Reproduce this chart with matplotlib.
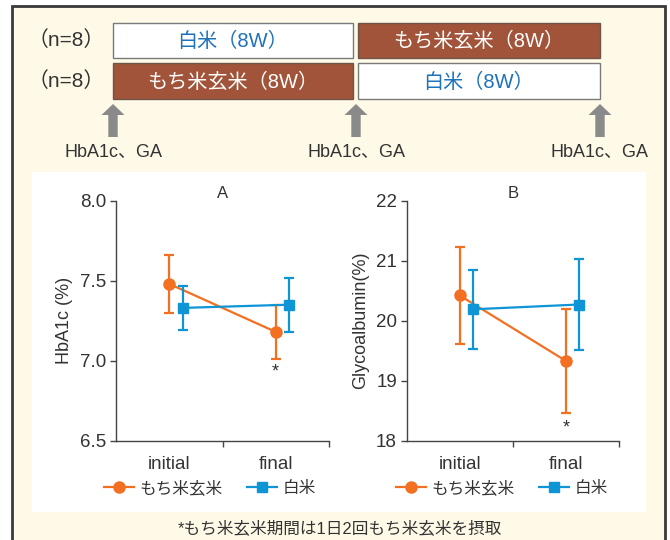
import matplotlib
matplotlib.use('Agg')
import matplotlib.pyplot as plt
from matplotlib.patches import Rectangle, Polygon
from matplotlib.lines import Line2D

plt.rcParams['font.family'] = ['Liberation Sans', 'Noto Sans CJK JP', 'DejaVu Sans']

# ---------------- data ----------------
categories = ['initial', 'final']
series_names = ['もち米玄米', '白米']

hba1c_mochi = [7.48, 7.18]
hba1c_mochi_err = [0.18, 0.17]
hba1c_white = [7.33, 7.35]
hba1c_white_err = [0.14, 0.17]

ga_mochi = [20.42, 19.33]
ga_mochi_err = [0.81, 0.87]
ga_white = [20.19, 20.27]
ga_white_err = [0.66, 0.76]

top_row1 = ['白米（8W）', 'もち米玄米（8W）']
top_row2 = ['もち米玄米（8W）', '白米（8W）']
n_label = '（n=8）'
arrow_label = 'HbA1c、GA'
footnote = '*もち米玄米期間は1日2回もち米玄米を摂取'

# ---------------- style ----------------
ORANGE = '#F36F21'
BLUE = '#0E95D6'
BROWN = '#A2543A'
BOXBLUE = '#1E72BC'
CREAM = '#FFFAE8'
TXT = '#333333'
GRAY = '#8A8A8A'

W, H = 670, 540
fig = plt.figure(figsize=(W / 100, H / 100), dpi=100)
fig.patch.set_facecolor('white')

def fx(x):
    return x / W

def fy(y):
    return 1 - y / H

def prect(x0, y0, x1, y1, **kw):
    r = Rectangle((fx(x0), fy(y1)), fx(x1) - fx(x0), fy(y0) - fy(y1),
                  transform=fig.transFigure, **kw)
    fig.add_artist(r)
    return r

# outer cream frame
prect(12, 6, 665, 560, facecolor=CREAM, edgecolor='#3a3a3a', linewidth=2, zorder=0)
# white chart panel
prect(32, 172, 646, 512, facecolor='white', edgecolor='none', zorder=0.5)

# top schedule boxes
rows_y = [(23, 58), (63, 99)]
cols_x = [(113, 353), (358, 600)]
for ri, row in enumerate([top_row1, top_row2]):
    y0, y1 = rows_y[ri]
    fig.text(fx(105), fy((y0 + y1) / 2), n_label, ha='right', va='center',
             fontsize=15, color=TXT)
    for ci, lab in enumerate(row):
        x0, x1 = cols_x[ci]
        brown = lab.startswith('もち')
        prect(x0, y0, x1, y1, facecolor=BROWN if brown else 'white',
              edgecolor='#6e5548' if brown else '#7a7a7a', linewidth=1, zorder=1)
        fig.text(fx((x0 + x1) / 2), fy((y0 + y1) / 2 + 1), lab, ha='center', va='center',
                 fontsize=14.5, color='white' if brown else BOXBLUE, zorder=2)

# arrows
for ax_x in [113, 356, 600]:
    pts = [(ax_x, 104), (ax_x + 11.5, 115), (ax_x + 4.7, 115), (ax_x + 4.7, 137),
           (ax_x - 4.7, 137), (ax_x - 4.7, 115), (ax_x - 11.5, 115)]
    poly = Polygon([(fx(a), fy(b)) for a, b in pts], closed=True,
                   transform=fig.transFigure, facecolor=GRAY, edgecolor='none')
    fig.add_artist(poly)
    fig.text(fx(ax_x), fy(152), arrow_label, ha='center', va='center',
             fontsize=13, color=TXT)

# ---------------- charts ----------------
def make_panel(left_px, right_px, ylim, yticks, yticklabels, ylabel, title,
               m_vals, m_err, w_vals, w_err, star_off, leg_cx):
    ax = fig.add_axes([fx(left_px), fy(440.7), fx(right_px) - fx(left_px),
                       fy(200.7) - fy(440.7)])
    ax.set_zorder(3)
    ax.set_facecolor('none')
    xs = [0.5, 1.5]
    off = 0.125
    ax.errorbar(xs, m_vals, yerr=m_err, color=ORANGE, marker='o', markersize=8,
                linewidth=1.6, elinewidth=1.6, capsize=3.5, capthick=1.6, zorder=3)
    ax.errorbar([x + off for x in xs], w_vals, yerr=w_err, color=BLUE, marker='s',
                markersize=7.5, linewidth=1.6, elinewidth=1.6, capsize=3.5,
                capthick=1.6, zorder=4)
    ax.set_xlim(0, 2)
    ax.set_ylim(*ylim)
    ax.set_yticks(yticks)
    ax.set_yticklabels(yticklabels)
    ax.set_xticks(xs)
    ax.set_xticklabels(categories)
    ax.set_xticks([1, 2], minor=True)
    ax.tick_params(axis='x', which='major', length=0, pad=11, labelsize=13.5,
                   labelcolor=TXT)
    ax.tick_params(axis='x', which='minor', length=4, width=1, color='#444444',
                   direction='out')
    ax.tick_params(axis='y', length=4, width=1, color='#444444', direction='out',
                   labelsize=13.5, labelcolor=TXT, pad=3)
    for s in ['top', 'right']:
        ax.spines[s].set_visible(False)
    for s in ['left', 'bottom']:
        ax.spines[s].set_color('#444444')
        ax.spines[s].set_linewidth(1)
    ax.set_ylabel(ylabel, fontsize=13, color=TXT, labelpad=5)
    ax.set_title(title, fontsize=12, color=TXT, pad=2)
    ax.annotate('*', xy=(xs[1], m_vals[1] - m_err[1]), xytext=(0, -star_off),
                textcoords='offset points', ha='center', va='center',
                fontsize=13, color=TXT)
    handles = [Line2D([], [], color=ORANGE, marker='o', markersize=8, linewidth=1.6),
               Line2D([], [], color=BLUE, marker='s', markersize=7.5, linewidth=1.6)]
    fig.legend(handles, series_names, loc='center', ncol=2, frameon=False,
               bbox_to_anchor=(fx(leg_cx), fy(488)), fontsize=12,
               handlelength=1.8, handletextpad=0.3, columnspacing=1.5,
               labelcolor=TXT)
    return ax

make_panel(116, 329, (6.5, 8.0), [6.5, 7.0, 7.5, 8.0], ['6.5', '7.0', '7.5', '8.0'],
           'HbA1c (%)', 'A', hba1c_mochi, hba1c_mochi_err, hba1c_white,
           hba1c_white_err, 9, 210)
make_panel(406.7, 619, (18, 22), [18, 19, 20, 21, 22], ['18', '19', '20', '21', '22'],
           'Glycoalbumin(%)', 'B', ga_mochi, ga_mochi_err, ga_white,
           ga_white_err, 11, 502)

fig.text(fx(340), fy(528), footnote, ha='center', va='center', fontsize=12, color=TXT)

fig.savefig('out.png', dpi=100)
